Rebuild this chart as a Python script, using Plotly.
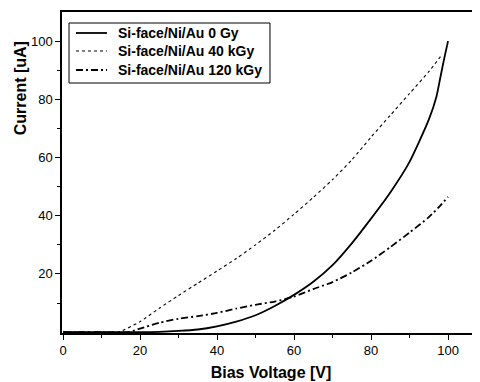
import plotly.graph_objects as go

# 0 Gy (solid)
x0 = [0, 10, 20, 25, 30, 35, 40, 45, 50, 55, 60, 65, 70, 75, 80, 85, 90, 95, 97, 98, 99, 99.5, 100]
y0 = [0, 0, 0, 0.1, 0.4, 0.9, 2.0, 3.6, 5.8, 9.0, 12.8, 17.3, 23, 30.5, 39, 48, 58.5, 73, 81, 87.5, 94, 97, 100]

# 40 kGy (dashed)
x40 = [0, 10, 14, 15, 20, 25, 30, 35, 40, 45, 50, 55, 60, 65, 70, 75, 80, 85, 90, 95, 98.5]
y40 = [0, 0, 0, 0.3, 3.6, 8.2, 12.6, 16.8, 21, 25.3, 30, 35, 40.5, 46.3, 52.4, 59.2, 67, 74.5, 82, 89.5, 95.5]

# 120 kGy (dash-dot)
x120 = [0, 10, 17, 20, 25, 30, 35, 40, 45, 50, 55, 60, 65, 70, 75, 80, 85, 90, 95, 98, 100]
y120 = [0, 0, 0, 1.2, 3.2, 4.6, 5.5, 6.6, 8.1, 9.4, 10.5, 12.2, 14.8, 17.2, 20.5, 24.5, 29.2, 34.2, 39.5, 43.5, 46.5]

names = ["Si-face/Ni/Au 0 Gy", "Si-face/Ni/Au 40 kGy", "Si-face/Ni/Au 120 kGy"]
x_ticks = [0, 20, 40, 60, 80, 100]
y_ticks = [20, 40, 60, 80, 100]

styles = [
    dict(color="black", width=1.8),
    dict(color="black", width=1.1, dash="3px,3px"),
    dict(color="black", width=1.8, dash="7px,3px,2px,3px"),
]

fig = go.Figure()
for xs, ys, nm, st in zip([x0, x40, x120], [y0, y40, y120], names, styles):
    fig.add_trace(go.Scatter(x=xs, y=ys, mode="lines", name=nm, showlegend=False,
                             line=dict(shape="spline", smoothing=0.6, **st)))

font_fam = "Liberation Sans, Arial, sans-serif"
axis_common = dict(showline=True, linecolor="black", linewidth=1.5, mirror=True,
                   ticks="outside", ticklen=5, tickwidth=1.2, tickcolor="black",
                   showgrid=False, zeroline=False,
                   tickfont=dict(family=font_fam, size=13, color="black"),
                   minor=dict(ticks="outside", ticklen=3, tickwidth=1, tickcolor="black"))

# hand-built legend box (paper coordinates)
shapes = [dict(type="rect", xref="paper", yref="paper", x0=0.0168, x1=0.4976, y0=0.7788, y1=0.9657,
               line=dict(color="black", width=1), fillcolor="white", layer="above")]
annotations = []
row_y = [0.9346, 0.8785, 0.8193]
for nm, st, ry in zip(names, styles, row_y):
    shapes.append(dict(type="line", xref="paper", yref="paper", x0=0.0335, x1=0.1077, y0=ry, y1=ry,
                       line=st, layer="above"))
    annotations.append(dict(text="<b>" + nm + "</b>", xref="paper", yref="paper", x=0.1292, y=ry,
                            xanchor="left", yanchor="middle", showarrow=False,
                            font=dict(family=font_fam, size=14, color="black")))

annotations.append(dict(text="<b>Current [uA]</b>", textangle=-90, xref="paper", yref="paper",
                        x=-0.1, y=0.763, xanchor="center", yanchor="middle", showarrow=False,
                        font=dict(size=16, family=font_fam, color="black")))

fig.update_layout(
    width=472, height=374,
    margin=dict(l=54, r=0, t=4, b=49, autoexpand=False),
    paper_bgcolor="white", plot_bgcolor="white",
    font=dict(family=font_fam, color="black"),
    showlegend=False,
    xaxis=dict(range=[-0.26, 108.3], tickvals=x_ticks,
               title=dict(text="<b>Bias Voltage [V]</b>", font=dict(size=16, family=font_fam), standoff=9),
               **axis_common),
    yaxis=dict(range=[-0.3, 110], tickvals=y_ticks, **axis_common),
    shapes=shapes,
    annotations=annotations,
)
fig.update_xaxes(minor=dict(tickvals=[10, 30, 50, 70, 90, 110]))
fig.update_yaxes(minor=dict(tickvals=[10, 30, 50, 70, 90]))

fig.write_html("out.html")
